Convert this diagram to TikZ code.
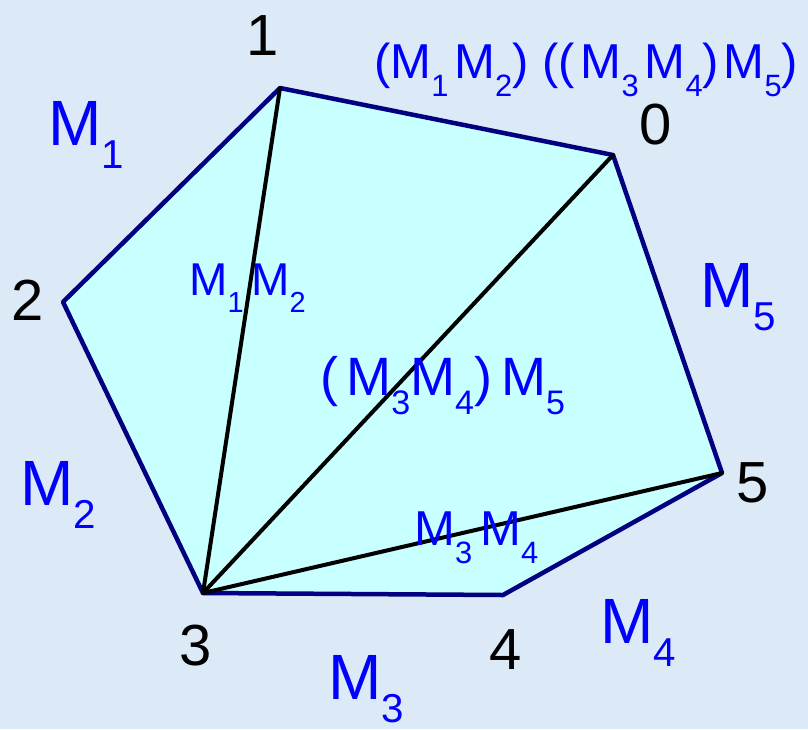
\documentclass[tikz,border=0pt]{standalone}
\usepackage{fontspec}
\setmainfont{Liberation Sans}
\usepackage{graphicx}
\usetikzlibrary{positioning}
\definecolor{bgblue}{RGB}{220,233,246}
\definecolor{polyfill}{RGB}{200,255,255}
\definecolor{edgeblue}{RGB}{0,0,128}
\newcommand{\msub}[1]{M\raisebox{-0.37em}{\scalebox{0.63}{#1}}}

\begin{document}
\begin{tikzpicture}[
    x=1pt, y=-1pt,
    num/.style={inner sep=0pt, font=\fontsize{58}{60}\selectfont},
    mat/.style={inner sep=0pt, anchor=base west, text=blue, font=\fontsize{64}{66}\selectfont},
    prod/.style={inner sep=0pt, anchor=base west, text=blue},
    poly/.style={draw=edgeblue, fill=polyfill, line width=4.5pt, line join=round},
    diag/.style={draw=black, line width=4pt, line cap=round},
]
    \fill[bgblue] (0,0) rectangle (808,729);
    \useasboundingbox (0,0) rectangle (808,729);

    % vertices
    \coordinate (p0) at (613,155);
    \coordinate (p1) at (280,88);
    \coordinate (p2) at (63,302);
    \coordinate (p3) at (203,593);
    \coordinate (p4) at (503,595);
    \coordinate (p5) at (722,473);

    \path[poly] (p1) -- (p0) -- (p5) -- (p4) -- (p3) -- (p2) -- cycle;
    \draw[diag] (p3) -- (p1);
    \draw[diag] (p3) -- (p0);
    \draw[diag] (p3) -- (p5);

    % vertex numbers
    \node[num] (n1) at (263,36) {1};
    \node[num] (n0) at (656,125) {0};
    \node[num] (n2) at (28,300) {2};
    \node[num] (n3) at (196,646) {3};
    \node[num] (n4) at (506,650) {4};
    \node[num] (n5) at (753,483) {5};

    % matrices on the sides
    \node[mat] (m1) at (48,145) {\msub{1}};
    \node[mat] (m2) at (20,505) {\msub{2}};
    \node[mat] (m3) at (328,699) {\msub{3}};
    \node[mat] (m4) at (600,643) {\msub{4}};
    \node[mat] (m5) at (700,307) {\msub{5}};

    % products on the diagonals
    \node[prod, font=\fontsize{46}{48}\selectfont] (d31) at (189,295) {\msub{1}\,\msub{2}};
    \node[prod, font=\fontsize{54}{56}\selectfont] (d30) at (320,395) {(\kern0.15em\msub{3}\msub{4})\,\msub{5}};
    \node[prod, font=\fontsize{49}{51}\selectfont] (d35) at (414,545) {\msub{3}\,\msub{4}};
    \node[prod, font=\fontsize{49}{51}\selectfont] (top) at (374,78) {(\msub{1}\kern0.12em\msub{2}) ((\kern0.12em\msub{3}\kern0.12em\msub{4})\kern0.1em\msub{5})};
\end{tikzpicture}
\end{document}
